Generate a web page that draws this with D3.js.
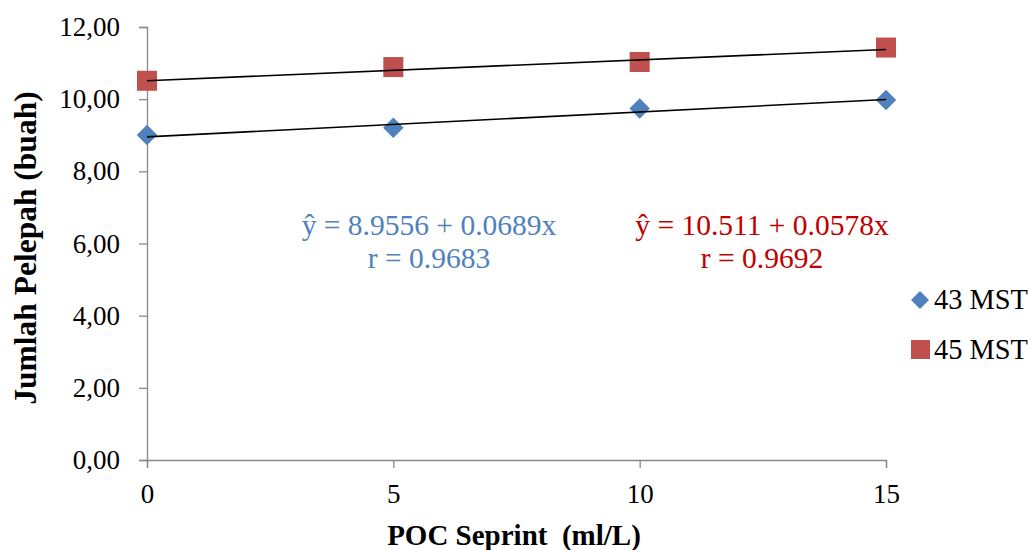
<!DOCTYPE html>
<html>
<head>
<meta charset="utf-8">
<script src="https://cdn.jsdelivr.net/npm/d3@7"></script>
<style>
  html, body { margin: 0; padding: 0; background: #fff; }
  svg { display: block; }
</style>
</head>
<body>
<svg id="chart" width="1033" height="550"></svg>
<script>
// POC dose levels (ml/L) and mean frond counts per observation week
const doses = [0, 5, 10, 15];
const mst43 = [9.01, 9.21, 9.74, 9.98];
const mst45 = [10.51, 10.89, 11.03, 11.43];
const seriesNames = ["43 MST", "45 MST"];
const yTicks = [0, 2, 4, 6, 8, 10, 12];
const xTicks = [0, 5, 10, 15];
// Linear regression fits: [intercept, slope, r]
const fit43 = [8.9556, 0.0689, 0.9683];
const fit45 = [10.511, 0.0578, 0.9692];

const blue = "#4F81BD", red = "#C0504D";
const serif = '"Liberation Serif", "Times New Roman", serif';

const svg = d3.select("#chart");
const x = d3.scaleLinear().domain([0, 15]).range([147, 886]);
const y = d3.scaleLinear().domain([0, 12]).range([460, 27]);

const fmt = d => d.toFixed(2).replace(".", ",");

// Y axis
const yAxis = svg.append("g").attr("transform", `translate(${x(0)},0)`)
  .call(d3.axisLeft(y).tickValues(yTicks).tickFormat(fmt).tickSize(8).tickPadding(19));
// X axis
const xAxis = svg.append("g").attr("transform", `translate(0,${y(0)})`)
  .call(d3.axisBottom(x).tickValues(xTicks).tickFormat(d3.format("d")).tickSize(8));

[yAxis, xAxis].forEach(g => {
  g.attr("font-family", null);
  g.select(".domain").attr("stroke", "#898989").attr("stroke-width", 1.3);
  g.selectAll(".tick line").attr("stroke", "#898989").attr("stroke-width", 1.3);
  g.selectAll(".tick text").attr("fill", "#000").style("font-size", "27px")
    .style("font-family", serif);
});
xAxis.selectAll(".tick text").attr("dy", null).attr("y", 43);

// Axis titles
svg.append("text")
  .attr("transform", "translate(36,248) rotate(-90)")
  .attr("text-anchor", "middle")
  .style("font-family", serif)
  .style("font-size", "31.5px").style("font-weight", "bold")
  .text("Jumlah Pelepah (buah)");

svg.append("text")
  .attr("x", 514).attr("y", 545)
  .attr("text-anchor", "middle")
  .style("white-space", "pre")
  .style("font-family", serif)
  .style("font-size", "29px").style("font-weight", "bold")
  .text("POC Seprint  (ml/L)");

// Markers
svg.append("g").selectAll("rect").data(doses).join("rect")
  .attr("x", d => x(d) - 10).attr("y", (d, i) => y(mst45[i]) - 10)
  .attr("width", 20).attr("height", 20).attr("fill", red);

svg.append("g").selectAll("path").data(doses).join("path")
  .attr("transform", (d, i) => `translate(${x(d)},${y(mst43[i])}) rotate(45)`)
  .attr("d", d3.symbol().type(d3.symbolSquare).size(210)())
  .attr("fill", blue);

// Trend lines, drawn over the markers
[fit43, fit45].forEach(f => {
  svg.append("line")
    .attr("x1", x(0)).attr("y1", y(f[0]))
    .attr("x2", x(15)).attr("y2", y(f[0] + f[1] * 15))
    .attr("stroke", "#000").attr("stroke-width", 1.6);
});

// Regression annotations
function annot(cx, fit, color) {
  const t = svg.append("text").attr("text-anchor", "middle")
    .style("font-family", serif)
    .style("font-size", "29.5px").attr("fill", color);
  t.append("tspan").attr("x", cx).attr("y", 235)
    .text(`ŷ = ${fit[0]} + ${fit[1]}x`);
  t.append("tspan").attr("x", cx).attr("y", 268)
    .text(`r = ${fit[2]}`);
}
annot(429, fit43, blue);
annot(762, fit45, "#C00000");

// Legend
const lg = svg.append("g");
lg.append("path")
  .attr("transform", "translate(920,300) rotate(45)")
  .attr("d", d3.symbol().type(d3.symbolSquare).size(162)())
  .attr("fill", blue);
lg.append("rect").attr("x", 911).attr("y", 340).attr("width", 19).attr("height", 19).attr("fill", red);
lg.append("text").attr("x", 934).attr("y", 309).style("font-family", serif).style("font-size", "28.4px").text(seriesNames[0]);
lg.append("text").attr("x", 934).attr("y", 359).style("font-family", serif).style("font-size", "28.4px").text(seriesNames[1]);
</script>
</body>
</html>
